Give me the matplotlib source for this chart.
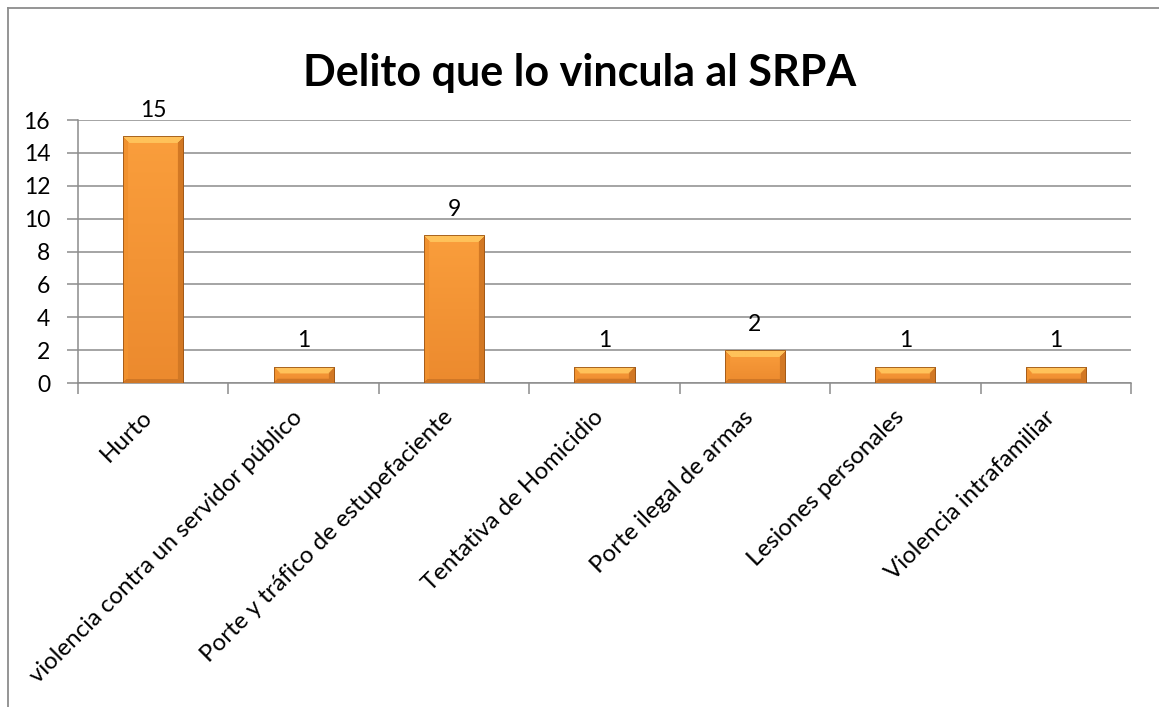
import numpy as np
import matplotlib
matplotlib.use("Agg")
import matplotlib.pyplot as plt
import matplotlib.transforms as mtransforms
from matplotlib.patches import Rectangle
from matplotlib.lines import Line2D
from matplotlib.colors import to_rgb

# data
categorias = ["Hurto", "violencia contra un servidor público",
              "Porte y tráfico de estupefaciente", "Tentativa de Homicidio",
              "Porte ilegal de armas", "Lesiones personales",
              "Violencia intrafamiliar"]
valores = [15, 1, 9, 1, 2, 1, 1]
titulo = "Delito que lo vincula al SRPA"
yticks = [0, 2, 4, 6, 8, 10, 12, 14, 16]

plt.rcParams['font.family'] = ['Lato', 'DejaVu Sans']

W, H = 1159, 707
fig = plt.figure(figsize=(W / 100, H / 100), dpi=100)
ax = fig.add_axes([78 / W, 1 - 383 / H, (1131 - 78) / W, (383 - 120) / H])

x = np.arange(len(categorias))
bars = ax.bar(x, valores, width=0.4, color='#F39434', edgecolor='#9A5516',
              linewidth=0.6, zorder=3)

ax.set_xlim(-0.5, len(categorias) - 0.5)
ax.set_ylim(0, 16)
ax.set_yticks(yticks)
ax.set_yticklabels([str(t) for t in yticks], fontsize=16.5)
ax.yaxis.grid(True, color='#8C8C8C', linewidth=1.1, zorder=0)
ax.tick_params(axis='y', length=8, color='#8C8C8C', width=1.1, pad=12)

ax.set_xticks(x)
ax.set_xticklabels(categorias, rotation=45, ha='right', rotation_mode='anchor',
                   fontsize=17.3)
ax.tick_params(axis='x', length=0, pad=14)
ax.set_xticks(np.arange(len(categorias) + 1) - 0.5, minor=True)
ax.tick_params(axis='x', which='minor', length=8, color='#8C8C8C', width=1.1)
# nudge the rotated labels so their ends sit under the bar centres
shift = mtransforms.ScaledTranslation(-12 / 100, -4 / 100, fig.dpi_scale_trans)
for lab in ax.get_xticklabels():
    lab.set_transform(lab.get_transform() + shift)

for s in ['top', 'right']:
    ax.spines[s].set_visible(False)
for s in ['left', 'bottom']:
    ax.spines[s].set_color('#8C8C8C')
    ax.spines[s].set_linewidth(1.1)

# bevel-like shading on each bar
fig.canvas.draw()
base_top = np.array(to_rgb('#FA9E3C'))
base_bot = np.array(to_rgb('#EC8A2E'))
c_top = np.array(to_rgb('#FFC25A'))
c_left = np.array(to_rgb('#F2922F'))
c_right = np.array(to_rgb('#D27824'))
c_bot = np.array(to_rgb('#D07726'))
for b in bars:
    bb = b.get_window_extent()
    wp, hp = int(round(bb.width)), max(int(round(bb.height)), 2)
    img = np.zeros((hp, wp, 3))
    t = np.linspace(0, 1, hp)[:, None]
    img[:] = (base_top * (1 - t) + base_bot * t)[:, None, :].reshape(hp, 1, 3)
    bev = min(7, hp // 2)
    rr, cc = np.mgrid[0:hp, 0:wp]
    top = (rr < bev) & (cc >= rr) & (cc < wp - rr)
    bot = (rr >= hp - 4) & (cc >= hp - 1 - rr) & (cc < wp - (hp - 1 - rr))
    left = (cc < 5) & ~top & ~bot
    right = (cc >= wp - 6) & ~top & ~bot
    img[top] = c_top
    img[bot] = c_bot
    img[left] = c_left
    img[right] = c_right
    x0, y0 = b.get_x(), b.get_y()
    im = ax.imshow(img, extent=(x0, x0 + b.get_width(), y0, y0 + b.get_height()),
                   aspect='auto', interpolation='bilinear', zorder=3.5)
    im.set_clip_path(b)
    ax.add_patch(Rectangle((x0, y0), b.get_width(), b.get_height(), fill=False,
                           edgecolor='#9A5516', linewidth=0.6, zorder=4))

for xi, v in zip(x, valores):
    ax.annotate(str(v), (xi, v), xytext=(0, 11), textcoords='offset points',
                ha='center', va='bottom', fontsize=16.5, zorder=5)

ax.set_xlim(-0.5, len(categorias) - 0.5)
ax.set_ylim(0, 16)

fig.text(580 / W, 1 - 73 / H, titulo, ha='center', va='center',
         fontsize=31, fontweight='bold')

# chart border (left and top visible)
fig.add_artist(Line2D([8 / W, 8 / W], [0, 1 - 8 / H], color='#8C8C8C', lw=1.3))
fig.add_artist(Line2D([8 / W, 1], [1 - 8 / H, 1 - 8 / H], color='#8C8C8C', lw=1.3))

fig.savefig("out.png", dpi=100)
